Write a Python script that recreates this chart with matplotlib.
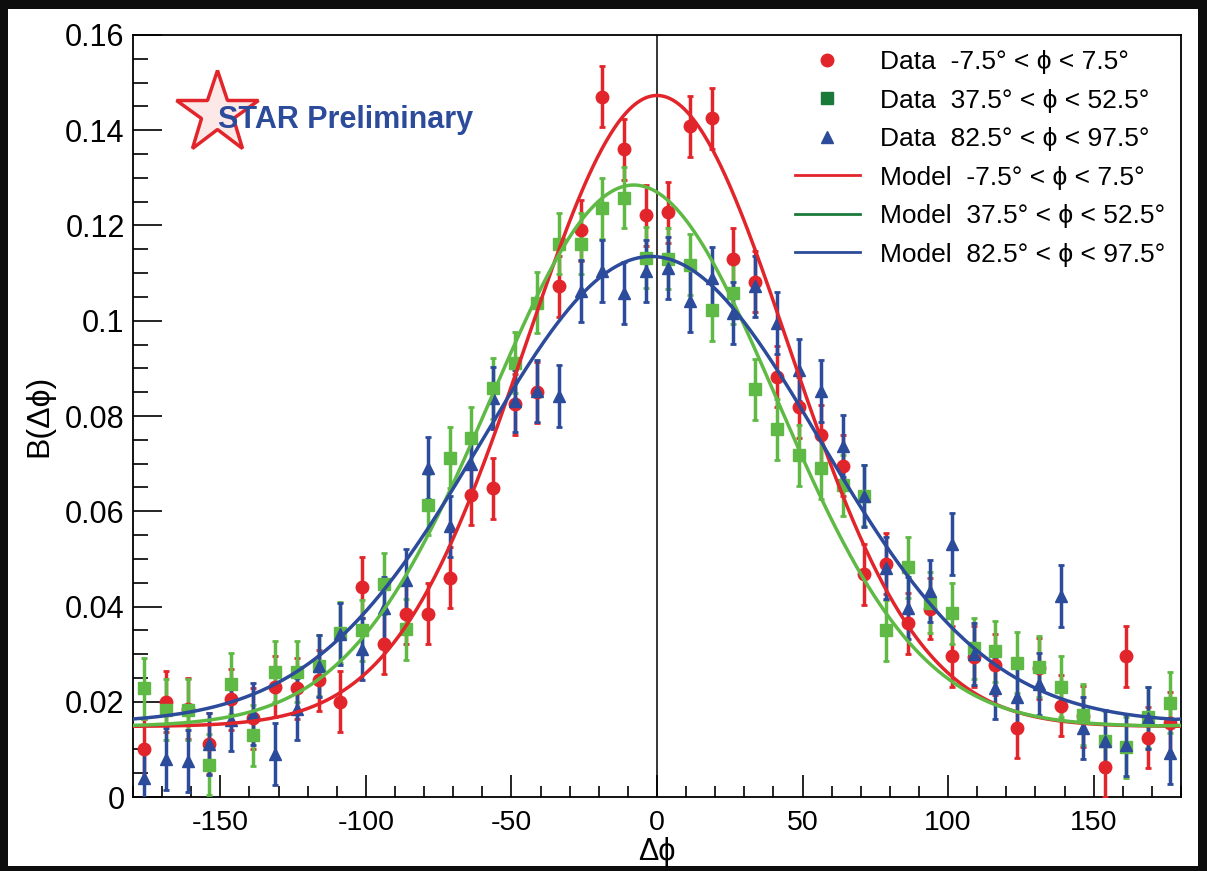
import numpy as np
import matplotlib
matplotlib.use("Agg")
import matplotlib.pyplot as plt
from matplotlib.lines import Line2D
from matplotlib.patches import Rectangle
from matplotlib.ticker import MultipleLocator, FuncFormatter

plt.rcParams['font.family'] = ['Liberation Sans', 'DejaVu Sans']
plt.rcParams['axes.unicode_minus'] = False

# ---------------- data ----------------
dphi = [-176.25, -168.75, -161.25, -153.75, -146.25, -138.75, -131.25, -123.75,
        -116.25, -108.75, -101.25, -93.75, -86.25, -78.75, -71.25, -63.75,
        -56.25, -48.75, -41.25, -33.75, -26.25, -18.75, -11.25, -3.75,
        3.75, 11.25, 18.75, 26.25, 33.75, 41.25, 48.75, 56.25,
        63.75, 71.25, 78.75, 86.25, 93.75, 101.25, 108.75, 116.25,
        123.75, 131.25, 138.75, 146.25, 153.75, 161.25, 168.75, 176.25]

b_red = [0.0100, 0.0200, 0.0185, 0.0112, 0.0205, 0.0165, 0.0232, 0.0228,
         0.0245, 0.0200, 0.0440, 0.0322, 0.0385, 0.0385, 0.0460, 0.0635,
         0.0648, 0.0825, 0.0850, 0.1072, 0.1190, 0.1470, 0.1360, 0.1222,
         0.1228, 0.1408, 0.1425, 0.1130, 0.1082, 0.0882, 0.0818, 0.0760,
         0.0696, 0.0468, 0.0490, 0.0365, 0.0395, 0.0296, 0.0295, 0.0278,
         0.0145, 0.0270, 0.0192, 0.0170, 0.0063, 0.0296, 0.0124, 0.0156]

b_green = [0.0228, 0.0183, 0.0183, 0.0068, 0.0238, 0.0130, 0.0263, 0.0263,
           0.0276, 0.0345, 0.0350, 0.0448, 0.0352, 0.0614, 0.0712, 0.0754,
           0.0858, 0.0912, 0.1038, 0.1162, 0.1162, 0.1236, 0.1258, 0.1132,
           0.1130, 0.1118, 0.1022, 0.1058, 0.0856, 0.0772, 0.0718, 0.0690,
           0.0655, 0.0633, 0.0350, 0.0482, 0.0408, 0.0386, 0.0312, 0.0306,
           0.0282, 0.0274, 0.0232, 0.0173, 0.0117, 0.0104, 0.0167, 0.0198]

b_blue = [0.0040, 0.0080, 0.0075, 0.0112, 0.0162, 0.0175, 0.0090, 0.0185,
          0.0276, 0.0343, 0.0310, 0.0396, 0.0455, 0.0690, 0.0568, 0.0700,
          0.0838, 0.0832, 0.0852, 0.0842, 0.1062, 0.1105, 0.1058, 0.1105,
          0.1110, 0.1042, 0.1090, 0.1016, 0.1072, 0.0996, 0.0897, 0.0852,
          0.0737, 0.0632, 0.0480, 0.0396, 0.0432, 0.0532, 0.0300, 0.0228,
          0.0210, 0.0238, 0.0423, 0.0144, 0.0117, 0.0109, 0.0166, 0.0092]

err_red = 0.0064
err_green = 0.0064
err_blue = 0.0065

# model parameters (Gaussian on a constant)
model_center = [0.0, -8.0, -2.0]
model_amp = [0.1325, 0.1137, 0.0980]
model_sigma = [45.0, 49.0, 58.0]
model_base = [0.0148, 0.0148, 0.0155]

labels_range = ["-7.5\u00b0 < \u03d5 < 7.5\u00b0", "37.5\u00b0 < \u03d5 < 52.5\u00b0",
                "82.5\u00b0 < \u03d5 < 97.5\u00b0"]

# ---------------- style ----------------
RED = '#e2252b'
GREEN = '#5fba45'
BLUE = '#2c4b9b'
GREEN_LEG = '#1a7a3a'

W, H = 1207, 871
fig = plt.figure(figsize=(W / 100, H / 100), dpi=100)
fig.patch.set_facecolor('#0d0d0d')
fig.add_artist(Rectangle((8 / W, 1 - 866 / H), (1198 - 8) / W, (866 - 9) / H,
                         transform=fig.transFigure, facecolor='white',
                         edgecolor='none', zorder=-10))

ax = fig.add_axes([133 / W, 1 - 797 / H, (1181 - 133) / W, (797 - 35) / H])
ax.set_xlim(-180, 180)
ax.set_ylim(0, 0.16)

x = np.array(dphi)
series = [(b_red, err_red, RED, 'o', 9.0),
          (b_green, err_green, GREEN, 's', 8.0),
          (b_blue, err_blue, BLUE, '^', 9.0)]
for vals, err, col, mk, ms in series:
    ax.errorbar(x, vals, yerr=err, fmt=mk, color=col, ms=ms, mec=col,
                elinewidth=2.5, capsize=2.5, capthick=2.0, zorder=3)

xs = np.linspace(-180, 180, 721)
for c, a, s, b, col in zip(model_center, model_amp, model_sigma, model_base,
                           [RED, GREEN, BLUE]):
    d = (xs - c + 180) % 360 - 180
    ax.plot(xs, b + a * np.exp(-d ** 2 / (2 * s ** 2)), color=col, lw=2.5, zorder=4)

ax.axvline(0, color='black', lw=1.1, zorder=2)

# ticks
ax.xaxis.set_major_locator(MultipleLocator(50))
ax.xaxis.set_minor_locator(MultipleLocator(10))
ax.yaxis.set_major_locator(MultipleLocator(0.02))
ax.yaxis.set_minor_locator(MultipleLocator(0.005))
ax.yaxis.set_major_formatter(FuncFormatter(lambda v, p: '%g' % round(v, 4)))
ax.xaxis.set_major_formatter(FuncFormatter(lambda v, p: '%g' % v))
ax.tick_params(axis='y', which='major', direction='in', length=21, width=1.2,
               labelsize=22, pad=6, right=False)
ax.tick_params(axis='y', which='minor', direction='in', length=11, width=1.2, right=False)
ax.tick_params(axis='x', which='major', direction='in', length=16, width=1.2,
               labelsize=20.5, pad=9, top=False)
ax.tick_params(axis='x', which='minor', direction='in', length=8, width=1.2, top=False)
for sp in ax.spines.values():
    sp.set_linewidth(1.3)

ax.set_xlabel('\u0394\u03d5', fontsize=22, labelpad=1)
ax.set_ylabel('B(\u0394\u03d5)', fontsize=23, labelpad=0)
ax.yaxis.set_label_coords(-0.075, 0.5)

# STAR logo
ax.plot([0.0800], [0.898], marker='*', ms=62, mfc='#fde8e8', mec=RED, mew=2.5,
        transform=ax.transAxes, zorder=5, clip_on=False)
ax.text(0.0811, 0.888, 'STAR Preliminary', transform=ax.transAxes, fontsize=22,
        fontweight='bold', color=BLUE, va='center', ha='left', zorder=6)

# legend
handles = [Line2D([], [], ls='none', marker='o', color=RED, ms=9),
           Line2D([], [], ls='none', marker='s', color=GREEN_LEG, ms=8),
           Line2D([], [], ls='none', marker='^', color=BLUE, ms=9),
           Line2D([], [], color=RED, lw=2),
           Line2D([], [], color=GREEN_LEG, lw=2),
           Line2D([], [], color=BLUE, lw=2)]
labs = ['Data  ' + t for t in labels_range] + ['Model  ' + t for t in labels_range]
fig.legend(handles, labs, loc='upper left', bbox_to_anchor=(795 / W, 1 - 50 / H),
           frameon=False, fontsize=19, handlelength=2.45, handletextpad=0.78,
           labelspacing=0.55, borderpad=0, borderaxespad=0)

fig.savefig('out.png', dpi=100, facecolor=fig.get_facecolor())
